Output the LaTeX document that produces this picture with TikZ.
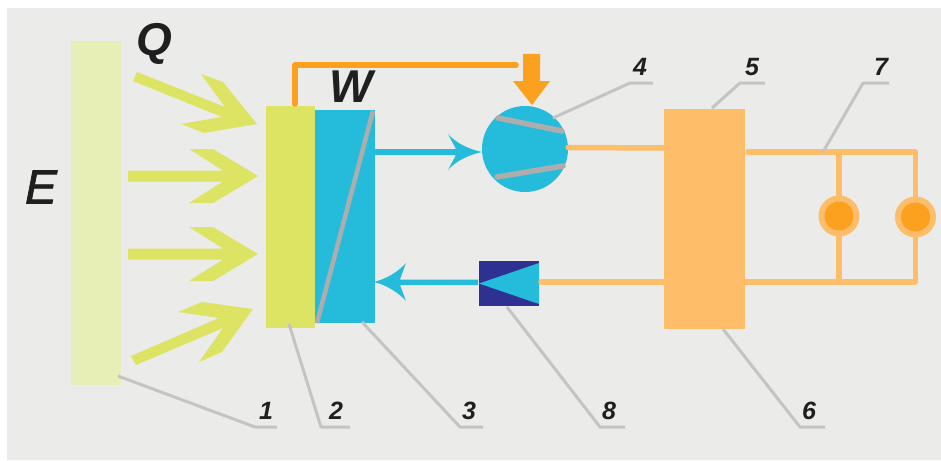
\documentclass[tikz,border=0pt]{standalone}
\usepackage{xcolor}
\usepackage{fontspec}
\setmainfont{Liberation Sans}
\definecolor{backgr}{HTML}{EBEBEA}
\definecolor{sourcec}{HTML}{E7EFB6}
\definecolor{yellowc}{HTML}{DDE464}
\definecolor{bluec}{HTML}{25BCDC}
\definecolor{navyc}{HTML}{2E3192}
\definecolor{orangec}{HTML}{FBA11F}
\definecolor{wirec}{HTML}{FDBD69}
\definecolor{greyc}{HTML}{ADADAD}
\definecolor{leaderc}{HTML}{C4C4C4}
\definecolor{inkc}{HTML}{1F1F1F}
\tikzset{
	block/.style={inner sep=0,outer sep=0,minimum width=#1},
	wire/.style={wirec,line width=5.5,line cap=round,line join=round},
	leader/.style={leaderc,line width=3,line join=round},
	blade/.style={greyc,line width=5.5,line cap=round},
	bigtxt/.style={inkc,font=\bfseries\itshape\fontsize{46}{46}\selectfont},
	numtxt/.style={inkc,font=\bfseries\itshape\fontsize{25}{25}\selectfont},
}
\begin{document}
\begin{tikzpicture}[x=1pt,y=-1pt]
\useasboundingbox (0,0) rectangle (941,460);
\fill[white] (0,0) rectangle (941,460);
\fill[backgr] (7,8) rectangle (941,460);
% main blocks
\node[block=50,minimum height=344,fill=sourcec] (src) at (96,213) {};
\node[block=48.5,minimum height=222,fill=yellowc] (abs) at (290.25,217) {};
\node[block=59.5,minimum height=213,fill=bluec] (evap) at (344.75,216.5) {};
\node[block=81,minimum height=220,fill=wirec] (gen) at (704.5,219) {};
\node[block=60,minimum height=45,fill=navyc] (valve) at (509,283.5) {};
\node[circle,inner sep=0,minimum size=86,fill=bluec] (comp) at (525,149) {};
\node[circle,inner sep=0,minimum size=41,fill=wirec] (lampa) at (839,216) {};
\node[circle,inner sep=0,minimum size=41,fill=wirec] (lampb) at (915.5,217) {};
\node[circle,inner sep=0,minimum size=29,fill=orangec] at (lampa) {};
\node[circle,inner sep=0,minimum size=29,fill=orangec] at (lampb) {};
\fill[bluec] (valve.west) -- (539,263) -- (539,304) -- cycle;
% inner details
\coordinate (ea) at (373,111);
\coordinate (eb) at (317,323);
\draw[greyc,line width=4.5] (ea) -- (eb);
\draw[blade] (498,118) -- (562,131);
\draw[blade] (497,177) -- (563,166);
% heat arrows
\fill[yellowc] (137,72) -- (225,107) -- (201,74) -- (223,82) -- (257,124) -- (204,133) -- (181,124) -- (222,117) -- (133,81) -- cycle;
\foreach \y in {176,254}{
	\fill[yellowc] (128,\y-5.5) -- (223,\y-5.5) -- (189,\y-27) -- (213,\y-27) -- (258,\y) -- (213,\y+27) -- (189,\y+27) -- (223,\y+5.5) -- (128,\y+5.5) -- cycle;
};
\fill[yellowc] (131,356) -- (219,318) -- (178,312) -- (202,302) -- (253,309) -- (222,352) -- (199,362) -- (223,328) -- (136,365) -- cycle;
% orange feed
\coordinate (fa) at (295,104);
\coordinate (fb) at (295,65);
\coordinate (fc) at (516,65);
\draw[orangec,line width=5.5,line cap=round,line join=round] plot[] coordinates {(fa) (fb) (fc)};
\fill[orangec] (523,54) -- (540,54) -- (540,81) -- (550,81) -- (532,105) -- (513,81) -- (523,81) -- cycle;
% blue flow
\fill[bluec] (374,149) -- (456,149) -- (448,134) .. controls (456,143) and (468,149) .. (482,152) .. controls (468,155) and (456,161) .. (448,170) -- (456,155) -- (374,155) -- cycle;
\fill[bluec] (478,279.5) -- (400,279.5) -- (406,263) .. controls (398,272) and (386,279) .. (374,282) .. controls (386,285) and (398,292) .. (406,301) -- (400,285) -- (478,285) -- cycle;
% wires
\coordinate (ga) at (664,148);
\coordinate (gb) at (748,152);
\coordinate (gc) at (839,152);
\coordinate (gd) at (915.5,152);
\coordinate (ge) at (745,282);
\coordinate (gf) at (839,282);
\coordinate (gg) at (915.5,282);
\coordinate (gh) at (664,282);
\coordinate (gi) at (541,282);
\draw[wire] (comp.2) -- (ga);
\draw[wire] (gi) -- (gh);
\draw[wire] (gb) -- (gd) -- (lampb);
\draw[wire] (gc) -- (lampa);
\draw[wire] (lampa) -- (gf);
\draw[wire] (lampb) -- (gg) -- (ge);
% leaders
\coordinate (la) at (118,376);
\coordinate (lb) at (255,427);
\coordinate (lc) at (277,427);
\draw[leader] plot[] coordinates {(la) (lb) (lc)};
\coordinate (ma) at (289,324);
\coordinate (mb) at (321,427);
\coordinate (mc) at (350,427);
\draw[leader] plot[] coordinates {(ma) (mb) (mc)};
\coordinate (na) at (362,322);
\coordinate (nb) at (460,427);
\coordinate (nc) at (483,427);
\draw[leader] plot[] coordinates {(na) (nb) (nc)};
\coordinate (oa) at (507,307);
\coordinate (ob) at (600,427);
\coordinate (oc) at (625,427);
\draw[leader] plot[] coordinates {(oa) (ob) (oc)};
\coordinate (pa) at (723,329);
\coordinate (pb) at (800,427);
\coordinate (pc) at (825,427);
\draw[leader] plot[] coordinates {(pa) (pb) (pc)};
\coordinate (qa) at (553,118);
\coordinate (qb) at (630,83);
\coordinate (qc) at (653,83);
\draw[leader] plot[] coordinates {(qa) (qb) (qc)};
\coordinate (ra) at (712,108);
\coordinate (rb) at (740,83);
\coordinate (rc) at (765,83);
\draw[leader] plot[] coordinates {(ra) (rb) (rc)};
\coordinate (sa) at (823,152);
\coordinate (sb) at (863,83);
\coordinate (sc) at (889,83);
\draw[leader] plot[] coordinates {(sa) (sb) (sc)};
% labels
\node[bigtxt] (tq) at (154,44) {Q};
\node[bigtxt] (tw) at (351,87) {W};
\node[inkc,font=\itshape\addfontfeature{FakeBold=1.5}\fontsize{48}{48}\selectfont] (te) at (41,187) {E};
\node[numtxt] (t1) at (266,411) {1};
\node[numtxt] (t2) at (336,411) {2};
\node[numtxt] (t3) at (469,411) {3};
\node[numtxt] (t8) at (609,411) {8};
\node[numtxt] (t6) at (809,411) {6};
\node[numtxt] (t4) at (640,67) {4};
\node[numtxt] (t5) at (752,67) {5};
\node[numtxt] (t7) at (881,67) {7};
\end{tikzpicture}
\end{document}
